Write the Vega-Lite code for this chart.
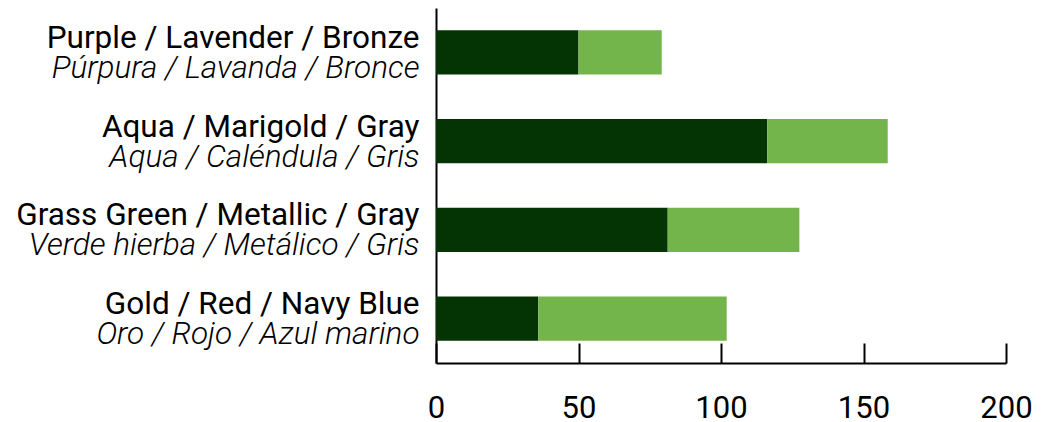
{
  "$schema": "https://vega.github.io/schema/vega-lite/v6.json",
  "autosize": {"type": "none"},
  "padding": {"left": 436, "top": 8, "right": 49, "bottom": 59},
  "width": 570,
  "height": 355,
  "background": "white",
  "config": {"view": {"stroke": null}, "font": "Roboto"},
  "data": {
    "values": [
      {"cat": "Purple / Lavender / Bronze", "seg": "a", "value": 50},
      {"cat": "Purple / Lavender / Bronze", "seg": "b", "value": 29.2},
      {"cat": "Aqua / Marigold / Gray", "seg": "a", "value": 116.2},
      {"cat": "Aqua / Marigold / Gray", "seg": "b", "value": 42.3},
      {"cat": "Grass Green / Metallic / Gray", "seg": "a", "value": 81.3},
      {"cat": "Grass Green / Metallic / Gray", "seg": "b", "value": 46.2},
      {"cat": "Gold / Red / Navy Blue", "seg": "a", "value": 35.9},
      {"cat": "Gold / Red / Navy Blue", "seg": "b", "value": 66.1}
    ]
  },
  "layer": [
    {
      "mark": {"type": "bar"},
      "encoding": {
        "y": {
          "field": "cat", "type": "nominal",
          "sort": ["Purple / Lavender / Bronze", "Aqua / Marigold / Gray", "Grass Green / Metallic / Gray", "Gold / Red / Navy Blue"],
          "scale": {"paddingInner": 0.5, "paddingOuter": 0.25},
          "axis": {
            "orient": "left",
            "title": null, "ticks": false, "domain": true, "domainColor": "#000", "domainWidth": 2,
            "labelFont": "Roboto", "labelFontSize": 31.5, "labelColor": "#000", "labelPadding": 17,
            "labelBaseline": "alphabetic", "labelOffset": -4.5, "labelLimit": 500
          }
        },
        "x": {
          "field": "value", "type": "quantitative", "stack": "zero",
          "scale": {"domain": [0, 200], "nice": false},
          "axis": {
            "title": null, "values": [0, 50, 100, 150, 200], "grid": false, "labelFlush": false,
            "domainColor": "#000", "domainWidth": 2, "tickColor": "#000", "tickWidth": 2, "tickSize": -20,
            "labelFont": "Roboto", "labelFontSize": 31, "labelColor": "#000", "labelPadding": 50
          }
        },
        "color": {
          "field": "seg", "type": "nominal", "legend": null,
          "scale": {"domain": ["a", "b"], "range": ["#043404", "#73b54a"]}
        },
        "order": {"field": "seg"}
      }
    },
    {
      "mark": {"type": "tick", "opacity": 0},
      "encoding": {
        "y": {
          "field": "cat", "type": "nominal",
          "sort": ["Purple / Lavender / Bronze", "Aqua / Marigold / Gray", "Grass Green / Metallic / Gray", "Gold / Red / Navy Blue"],
          "axis": {
            "orient": "left",
            "title": null, "ticks": false, "domain": false,
            "labelExpr": "datum.label == 'Purple / Lavender / Bronze' ? 'Púrpura / Lavanda / Bronce' : datum.label == 'Aqua / Marigold / Gray' ? 'Aqua / Caléndula / Gris' : datum.label == 'Grass Green / Metallic / Gray' ? 'Verde hierba / Metálico / Gris' : 'Oro / Rojo / Azul marino'",
            "labelFont": "Roboto", "labelFontSize": 31.5, "labelFontStyle": "italic", "labelFontWeight": 300, "labelColor": "#000", "labelPadding": 17,
            "labelBaseline": "alphabetic", "labelOffset": 25.5, "labelLimit": 500
          }
        },
        "x": {"datum": 0, "type": "quantitative"}
      }
    }
  ],
  "resolve": {"axis": {"y": "independent"}}
}
